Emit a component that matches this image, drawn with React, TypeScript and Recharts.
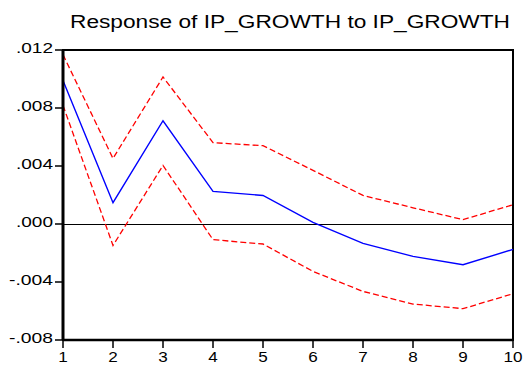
import React from "react";
import { LineChart, Line, XAxis, YAxis, ReferenceLine, ReferenceArea } from "recharts";

// Impulse response horizons and estimated response with +/- 2 S.E. bands
const horizons = [1, 2, 3, 4, 5, 6, 7, 8, 9, 10];
const response = [0.0099, 0.00147, 0.00712, 0.00225, 0.00197, 0.00011, -0.00134, -0.00223, -0.00281, -0.00175];
const upperBand = [0.01168, 0.00452, 0.01014, 0.00561, 0.0054, 0.0037, 0.00197, 0.00112, 0.0003, 0.00133];
const lowerBand = [0.00818, -0.00148, 0.00404, -0.00108, -0.00138, -0.00327, -0.00465, -0.00552, -0.00584, -0.00481];
const yTicks = [-0.008, -0.004, 0, 0.004, 0.008, 0.012];
const title = "Response of IP_GROWTH to IP_GROWTH";

const data = horizons.map((h, i) => ({
  h,
  response: response[i],
  upper: upperBand[i],
  lower: lowerBand[i],
}));

const FONT = "'Liberation Sans', Arial, sans-serif";

const fmt = (v: number) => {
  const s = Math.abs(v).toFixed(3).replace(/^0/, "");
  return v < 0 ? "-" + s : s;
};

const YTick = (props: any) => {
  const { x, y, payload } = props;
  const label = fmt(payload.value);
  return (
    <text
      x={x}
      y={y + 2.5}
      textAnchor="end"
      fontFamily={FONT}
      fontSize={14}
      fill="#000"
      textLength={label.startsWith("-") ? 44 : 37}
      lengthAdjust="spacingAndGlyphs"
    >
      {label}
    </text>
  );
};

const XTick = (props: any) => {
  const { x, y, payload } = props;
  const label = String(payload.value);
  return (
    <text
      x={x}
      y={y + 14}
      textAnchor="middle"
      fontFamily={FONT}
      fontSize={14}
      fill="#000"
      textLength={label.length * 9.5}
      lengthAdjust="spacingAndGlyphs"
    >
      {label}
    </text>
  );
};

export default function App() {
  return (
    <div style={{ position: "absolute", left: 0, top: 0, width: 524, height: 367, background: "#fff" }}>
      <LineChart width={524} height={367} data={data} margin={{ top: 50, right: 11, bottom: 0, left: 0 }}>
        <ReferenceArea
          x1={1}
          x2={10}
          y1={-0.008}
          y2={0.012}
          fill="none"
          fillOpacity={0}
          stroke="#000"
          strokeOpacity={1}
          strokeWidth={2}
        />
        <ReferenceLine y={0} stroke="#000" strokeOpacity={1} strokeWidth={1} shapeRendering="crispEdges" />
        <Line dataKey="upper" stroke="#ff0000" strokeWidth={1.3} strokeDasharray="6 3" dot={false} isAnimationActive={false} />
        <Line dataKey="lower" stroke="#ff0000" strokeWidth={1.3} strokeDasharray="6 3" dot={false} isAnimationActive={false} />
        <Line dataKey="response" stroke="#0000ff" strokeWidth={1.4} dot={false} isAnimationActive={false} />
        <XAxis
          dataKey="h"
          type="number"
          domain={[1, 10]}
          ticks={horizons}
          interval={0}
          height={27}
          tickSize={8}
          tickMargin={0}
          stroke="#000"
          axisLine={{ stroke: "#000", strokeWidth: 2.5 }}
          tickLine={{ stroke: "#000", strokeWidth: 1.5 }}
          tick={<XTick />}
        />
        <YAxis
          type="number"
          domain={[-0.008, 0.012]}
          ticks={yTicks}
          interval={0}
          width={63}
          tickSize={8}
          tickMargin={2}
          stroke="#000"
          axisLine={{ stroke: "#000", strokeWidth: 3 }}
          tickLine={{ stroke: "#000", strokeWidth: 1.5 }}
          tick={<YTick />}
        />
      </LineChart>
      <svg width={524} height={40} style={{ position: "absolute", left: 0, top: 0 }}>
        <text
          x={290}
          y={27.5}
          textAnchor="middle"
          fontFamily={FONT}
          fontSize={18}
          fill="#000"
          textLength={440}
          lengthAdjust="spacingAndGlyphs"
        >
          {title}
        </text>
      </svg>
    </div>
  );
}
